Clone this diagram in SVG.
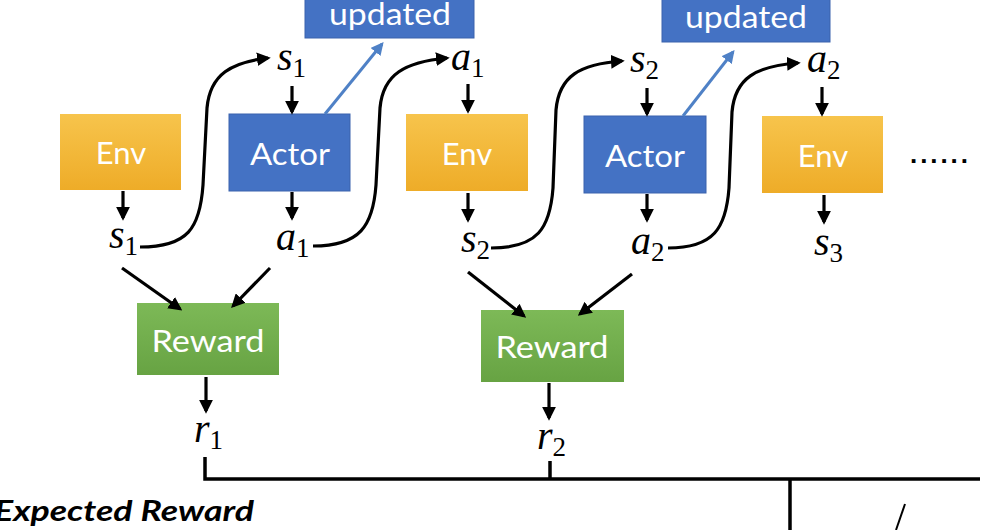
<svg xmlns="http://www.w3.org/2000/svg" width="986" height="530" viewBox="0 0 986 530">
<defs>
<linearGradient id="gEnv" x1="0" y1="0" x2="0" y2="1"><stop offset="0" stop-color="#f7c44c"/><stop offset="1" stop-color="#eeac28"/></linearGradient>
<linearGradient id="gRew" x1="0" y1="0" x2="0" y2="1"><stop offset="0" stop-color="#7db957"/><stop offset="1" stop-color="#67a343"/></linearGradient>
<marker id="ah" viewBox="0 0 10 10" refX="8" refY="5" markerWidth="4.3" markerHeight="4.3" orient="auto" markerUnits="strokeWidth"><path d="M0,0 L10,5 L0,10 z" fill="#000"/></marker>
<marker id="ahb" viewBox="0 0 10 10" refX="8" refY="5" markerWidth="4.3" markerHeight="4.3" orient="auto" markerUnits="strokeWidth"><path d="M0,0 L10,5 L0,10 z" fill="#4f81c6"/></marker>
</defs>
<style>
.env{fill:url(#gEnv);}
.act{fill:#4472c4;stroke:#3a63ad;stroke-width:1;}
.rew{fill:url(#gRew);}
.lbl{font-family:Lato,"Open Sans","Liberation Sans",sans-serif;fill:#fff;font-size:31px;text-anchor:middle;}
.m{font-family:"Liberation Serif","DejaVu Serif",serif;font-style:italic;font-size:40px;fill:#000;}
.sub{font-family:"Liberation Serif","DejaVu Serif",serif;font-style:normal;font-size:27px;}
.c{fill:none;stroke:#000;stroke-width:3.2;}
.cb{fill:none;stroke:#4f81c6;stroke-width:3;}
.ln{fill:none;stroke:#000;stroke-width:3.5;}
</style>
<rect width="986" height="530" fill="#fff"/>

<g id="updated1"><rect x="305" y="-6" width="169" height="44" class="act"/><text x="390" y="25" class="lbl" font-size="33" textLength="122" lengthAdjust="spacingAndGlyphs">updated</text></g>
<g id="updated2"><rect x="662" y="-6" width="168" height="48" class="act"/><text x="746" y="28" class="lbl" font-size="33" textLength="122" lengthAdjust="spacingAndGlyphs">updated</text></g>

<g id="env1"><rect x="60" y="114" width="121" height="76" class="env"/><text x="121" y="164" class="lbl">Env</text></g>
<g id="actor1"><rect x="229" y="114" width="121" height="77" class="act"/><text x="290" y="165" class="lbl" textLength="80" lengthAdjust="spacingAndGlyphs">Actor</text></g>
<g id="env2"><rect x="406" y="114" width="122" height="77" class="env"/><text x="467" y="165" class="lbl">Env</text></g>
<g id="actor2"><rect x="584" y="116" width="122" height="77" class="act"/><text x="645" y="167" class="lbl" textLength="80" lengthAdjust="spacingAndGlyphs">Actor</text></g>
<g id="env3"><rect x="762" y="116" width="121" height="77" class="env"/><text x="823" y="167" class="lbl">Env</text></g>
<g id="dots"><text x="910" y="163" font-family="Liberation Sans,sans-serif" font-size="26" font-weight="bold" fill="#000" textLength="58" lengthAdjust="spacing">......</text></g>

<g id="reward1"><rect x="137" y="303" width="142" height="72" class="rew"/><text x="208" y="352" class="lbl" textLength="113" lengthAdjust="spacingAndGlyphs">Reward</text></g>
<g id="reward2"><rect x="481" y="310" width="143" height="72" class="rew"/><text x="552" y="358" class="lbl" textLength="113" lengthAdjust="spacingAndGlyphs">Reward</text></g>

<g id="labels">
<text x="277" y="70" class="m">s<tspan class="sub" dy="7">1</tspan></text>
<text x="109" y="248" class="m">s<tspan class="sub" dy="7">1</tspan></text>
<text x="451" y="70" class="m">a<tspan class="sub" dy="7">1</tspan></text>
<text x="276" y="250" class="m">a<tspan class="sub" dy="7">1</tspan></text>
<text x="630" y="72" class="m">s<tspan class="sub" dy="7">2</tspan></text>
<text x="461" y="252" class="m">s<tspan class="sub" dy="7">2</tspan></text>
<text x="807" y="72" class="m">a<tspan class="sub" dy="7">2</tspan></text>
<text x="631" y="254" class="m">a<tspan class="sub" dy="7">2</tspan></text>
<text x="814" y="255" class="m">s<tspan class="sub" dy="7">3</tspan></text>
<text x="194" y="442" class="m">r<tspan class="sub" dy="7">1</tspan></text>
<text x="537" y="449" class="m">r<tspan class="sub" dy="7">2</tspan></text>
<text x="-6" y="521" font-family="Lato,'Liberation Sans',sans-serif" font-size="29" font-weight="bold" font-style="italic" fill="#000" textLength="260" lengthAdjust="spacingAndGlyphs">Expected Reward</text>
</g>

<g id="connectors">
<path class="c" marker-end="url(#ah)" d="M292,86 V112"/>
<path class="c" marker-end="url(#ah)" d="M123,191 V218"/>
<path class="c" marker-end="url(#ah)" d="M292,192 V218"/>
<path class="c" marker-end="url(#ah)" d="M468,84 V111"/>
<path class="c" marker-end="url(#ah)" d="M468,193 V220"/>
<path class="c" marker-end="url(#ah)" d="M647,88 V114"/>
<path class="c" marker-end="url(#ah)" d="M647,194 V220"/>
<path class="c" marker-end="url(#ah)" d="M822,87 V114"/>
<path class="c" marker-end="url(#ah)" d="M824,195 V222"/>
<path class="c" marker-end="url(#ah)" d="M206,377 V411"/>
<path class="c" marker-end="url(#ah)" d="M549,383 V418"/>

<path class="c" marker-end="url(#ah)" d="M140,247 C188,247 200,228 203,185 L207,108 C210,74 232,62 268,58"/>
<path class="c" marker-end="url(#ah)" d="M313,246 C360,246 373,226 376,185 L380,108 C383,74 405,62 447,58"/>
<path class="c" marker-end="url(#ah)" d="M491,248 C538,248 550,228 553,188 L556,110 C559,76 580,64 622,61"/>
<path class="c" marker-end="url(#ah)" d="M668,248 C714,248 726,228 729,188 L732,112 C735,78 756,66 798,63"/>

<path class="cb" marker-end="url(#ahb)" d="M325,114 L382,44"/>
<path class="cb" marker-end="url(#ahb)" d="M683,116 L733,52"/>

<path class="c" marker-end="url(#ah)" d="M122,268 L180,309"/>
<path class="c" marker-end="url(#ah)" d="M270,268 L233,306"/>
<path class="c" marker-end="url(#ah)" d="M468,272 L524,316"/>
<path class="c" marker-end="url(#ah)" d="M632,274 L580,314"/>

<path class="ln" d="M205,457 V479 H980"/>
<path class="ln" d="M550,461 V479"/>
<path class="ln" d="M790,479 V530"/>
<path d="M905,504 L896,530" stroke="#000" stroke-width="2" fill="none"/>
</g>
</svg>
